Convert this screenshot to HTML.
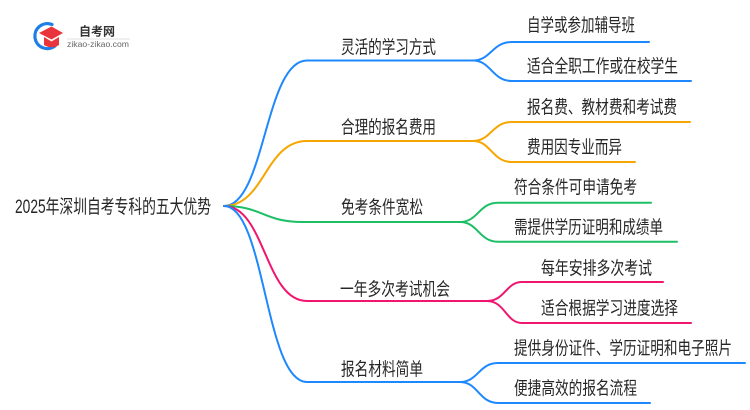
<!DOCTYPE html>
<html>
<head>
<meta charset="utf-8">
<style>
  html,body{margin:0;padding:0;background:#fff;}
  svg{display:block;}
  text{font-family:"Liberation Sans","Noto Sans CJK SC",sans-serif;fill:#262626;}
</style>
</head>
<body>
<svg width="750" height="410" viewBox="0 0 750 410" xmlns="http://www.w3.org/2000/svg">
  <rect width="750" height="410" fill="#fff"/>

  <!-- Logo -->
  <g>
    <path d="M52,24.5 A12.5,12.5 0 1 0 55,46" fill="none" stroke="#1e7ee8" stroke-width="3.2" stroke-linecap="round"/>
    <polygon points="39,33 51.5,26.5 63,33 51.5,39.5" fill="#e8343a"/>
    <path d="M44,37 L44,45 Q51.5,49.5 59,45 L59,37 L51.5,41.5 Z" fill="#e8343a"/>
    <text x="79" y="35.5" font-size="12" font-weight="bold" fill="#333" style="fill:#333">自考网</text>
    <line x1="67" y1="39" x2="130" y2="39" stroke="#e2e2e2" stroke-width="1"/>
    <text x="67" y="47" font-size="8.6" style="fill:#666" textLength="62" lengthAdjust="spacingAndGlyphs">zikao-zikao.com</text>
  </g>

  <!-- Root -->
  <text x="15" y="213" font-size="19" textLength="196" lengthAdjust="spacingAndGlyphs">2025年深圳自考专科的五大优势</text>

  <g fill="none" stroke-width="2" stroke-linecap="round">
    <!-- Branch 1 blue -->
    <path d="M224,206 C265,206 265,60.5 307,60.5 L473,60.5" stroke="#1e88ff"/>
    <path d="M473,60.5 C491,60.5 492,42 512,42 L649,42" stroke="#1e88ff"/>
    <path d="M473,60.5 C491,60.5 492,81 512,81 L691,81" stroke="#1e88ff"/>

    <!-- Branch 2 orange -->
    <path d="M224,206 C265,206 265,141 307,141 L473,141" stroke="#f5a600"/>
    <path d="M473,141 C491,141 492,122 512,122 L690,122" stroke="#f5a600"/>
    <path d="M473,141 C491,141 492,162 512,162 L635,162" stroke="#f5a600"/>

    <!-- Branch 3 green -->
    <path d="M224,206 C263,206 263,222 303,222 L460,222" stroke="#1cbf66"/>
    <path d="M460,222 C478,222 479,202.7 498,202.7 L651,202.7" stroke="#1cbf66"/>
    <path d="M460,222 C478,222 479,241.7 498,241.7 L677,241.7" stroke="#1cbf66"/>

    <!-- Branch 4 pink -->
    <path d="M224,206 C265,206 265,301 307,301 L487,301" stroke="#f0156e"/>
    <path d="M487,301 C505,301 506,282 522,282 L663,282" stroke="#f0156e"/>
    <path d="M487,301 C505,301 506,323 522,323 L691,323" stroke="#f0156e"/>

    <!-- Branch 5 blue -->
    <path d="M224,206 C265,206 265,382 307,382 L460,382" stroke="#1e88ff"/>
    <path d="M460,382 C478,382 479,363 498,363 L745,363" stroke="#1e88ff"/>
    <path d="M460,382 C478,382 479,403 498,403 L650,403" stroke="#1e88ff"/>
  </g>

  <!-- Level 1 labels -->
  <text x="341" y="53.5" font-size="18" textLength="95" lengthAdjust="spacingAndGlyphs">灵活的学习方式</text>
  <text x="341" y="133.5" font-size="18" textLength="95" lengthAdjust="spacingAndGlyphs">合理的报名费用</text>
  <text x="341" y="213.5" font-size="18" textLength="82" lengthAdjust="spacingAndGlyphs">免考条件宽松</text>
  <text x="340" y="295.5" font-size="18" textLength="110" lengthAdjust="spacingAndGlyphs">一年多次考试机会</text>
  <text x="341" y="375.5" font-size="18" textLength="82" lengthAdjust="spacingAndGlyphs">报名材料简单</text>

  <!-- Level 2 labels -->
  <text x="527" y="31.5" font-size="18" textLength="108" lengthAdjust="spacingAndGlyphs">自学或参加辅导班</text>
  <text x="527" y="72.5" font-size="18" textLength="151" lengthAdjust="spacingAndGlyphs">适合全职工作或在校学生</text>
  <text x="527" y="113.5" font-size="18" textLength="150" lengthAdjust="spacingAndGlyphs">报名费、教材费和考试费</text>
  <text x="527" y="153.5" font-size="18" textLength="95" lengthAdjust="spacingAndGlyphs">费用因专业而异</text>
  <text x="514" y="193.5" font-size="18" textLength="123" lengthAdjust="spacingAndGlyphs">符合条件可申请免考</text>
  <text x="514" y="233.5" font-size="18" textLength="149" lengthAdjust="spacingAndGlyphs">需提供学历证明和成绩单</text>
  <text x="541" y="274.5" font-size="18" textLength="111" lengthAdjust="spacingAndGlyphs">每年安排多次考试</text>
  <text x="541" y="314.5" font-size="18" textLength="137" lengthAdjust="spacingAndGlyphs">适合根据学习进度选择</text>
  <text x="514" y="354.5" font-size="18" textLength="218" lengthAdjust="spacingAndGlyphs">提供身份证件、学历证明和电子照片</text>
  <text x="514" y="394.5" font-size="18" textLength="123" lengthAdjust="spacingAndGlyphs">便捷高效的报名流程</text>
</svg>
</body>
</html>
